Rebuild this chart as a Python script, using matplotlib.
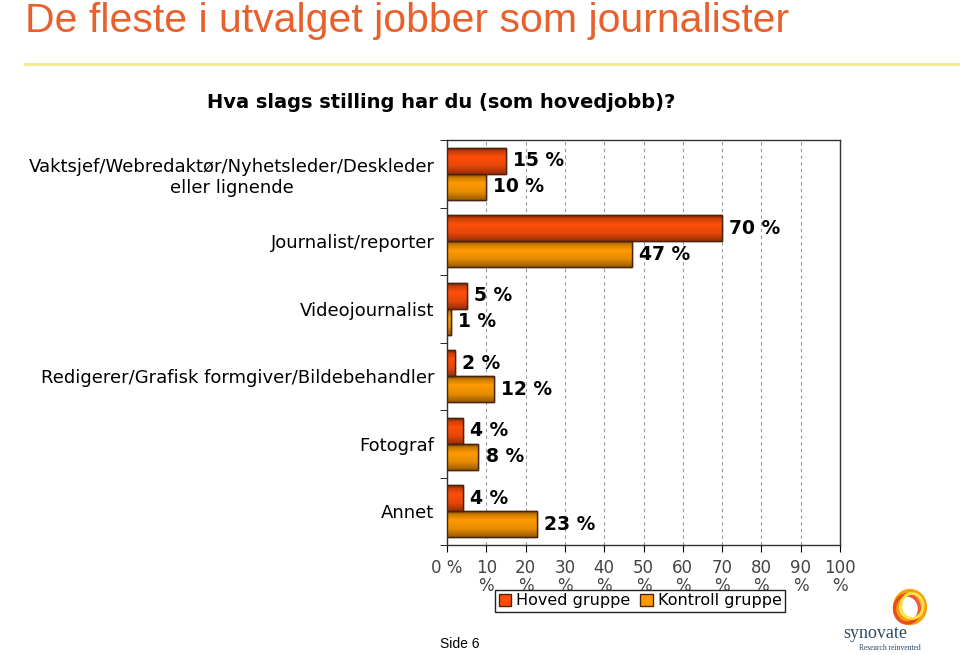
import matplotlib.pyplot as plt
from matplotlib.patches import Ellipse
from matplotlib.colors import to_rgb
import numpy as np

categories = ["Vaktsjef/Webredaktør/Nyhetsleder/Deskleder\neller lignende",
              "Journalist/reporter",
              "Videojournalist",
              "Redigerer/Grafisk formgiver/Bildebehandler",
              "Fotograf",
              "Annet"]
hoved = [15, 70, 5, 2, 4, 4]
kontroll = [10, 47, 1, 12, 8, 23]
series_names = ["Hoved gruppe", "Kontroll gruppe"]
xticks = list(range(0, 101, 10))
xticklabels = ["0 %"] + [f"{v}\n%" for v in xticks[1:]]

red = "#FF4E0A"
orange = "#FF9A00"
edge = "#4a2410"


def shade(color):
    # vertical cylinder-like shading: dark top, bright upper middle, darker bottom
    c = np.array(to_rgb(color))
    t = np.linspace(0, 1, 40)
    f = np.interp(t, [0, 0.12, 0.35, 0.7, 1.0], [0.45, 0.8, 1.0, 0.9, 0.6])
    return (c[None, :] * f[:, None])[:, None, :]


fig = plt.figure(figsize=(9.6, 6.55), dpi=100)
W, H = 960, 655

# slide title and yellow rule
fig.text(25 / W, 1 - 21 / H, "De fleste i utvalget jobber som journalister",
         fontsize=29.5, color="#E8602C", family="Liberation Sans", va="center", ha="left")
fig.add_artist(plt.Line2D([25 / W, 1.0], [1 - 64 / H] * 2, color="#F2EC8A", lw=2))

# chart title
fig.text(441 / W, 1 - 103 / H, "Hva slags stilling har du (som hovedjobb)?",
         fontsize=14, fontweight="bold", family="DejaVu Sans", ha="center", va="center")

ax = fig.add_axes([447 / W, 1 - 545 / H, (840 - 447) / W, (545 - 140) / H])
n = len(categories)
y = np.arange(n)
h = 0.385
b1 = ax.barh(y - h / 2, hoved, height=h, color=red, edgecolor=edge, linewidth=1, label=series_names[0], zorder=3)
b2 = ax.barh(y + h / 2, kontroll, height=h, color=orange, edgecolor=edge, linewidth=1, label=series_names[1], zorder=3)

for bars, col in ((b1, red), (b2, orange)):
    img = shade(col)
    for bar in bars:
        x0, y0 = bar.get_x(), bar.get_y()
        im = ax.imshow(img, extent=(x0, x0 + bar.get_width(), y0 + bar.get_height(), y0),
                       aspect="auto", zorder=3.5, interpolation="bilinear")
        im.set_clip_path(bar)
        ax.add_patch(plt.Rectangle((x0, y0), bar.get_width(), bar.get_height(),
                                   fill=False, ec=edge, lw=1, zorder=4))

for bars, vals in ((b1, hoved), (b2, kontroll)):
    for bar, v in zip(bars, vals):
        ax.text(v + 1.8, bar.get_y() + bar.get_height() / 2, f"{v} %",
                va="center", ha="left", fontsize=13.5, fontweight="bold", family="DejaVu Sans")

ax.set_xlim(0, 100)
ax.set_ylim(n - 0.5, -0.5)
ax.set_aspect("auto")
ax.set_xticks(xticks)
ax.set_xticklabels(xticklabels, fontsize=12, color="#444444", family="DejaVu Sans", linespacing=1.0)
ax.set_yticks(y)
ax.set_yticklabels(categories, fontsize=13, family="DejaVu Sans", ha="right", multialignment="center")
ax.set_yticks(np.arange(n + 1) - 0.5, minor=True)
ax.tick_params(axis="y", which="major", length=0, pad=9)
ax.tick_params(axis="y", which="minor", length=5, direction="out")
ax.tick_params(axis="x", length=5, direction="out", pad=5)
ax.xaxis.grid(True, linestyle=(0, (3, 3)), color="#999999", lw=0.8, zorder=0)
for s in ax.spines.values():
    s.set_color("#333333")
    s.set_linewidth(1)

# legend drawn on top of the second row of tick labels, as in the original
leg = fig.legend(handles=[b1, b2], labels=series_names, loc="center",
                 bbox_to_anchor=(640 / W, 1 - 601 / H), ncol=2, frameon=True, fancybox=False,
                 edgecolor="#222222", handlelength=0.8, handleheight=0.8,
                 handletextpad=0.3, columnspacing=0.6, borderpad=0.25, framealpha=1,
                 prop={"family": "DejaVu Sans", "size": 11.5})
leg.get_frame().set_linewidth(1)
leg.set_zorder(10)

# footer
fig.text(460 / W, 1 - 644 / H, "Side 6", fontsize=10, family="Liberation Sans", ha="center", va="center")

# synovate logo
lax = fig.add_axes([835 / W, 0, 125 / W, 70 / H])
lax.set_xlim(0, 125)
lax.set_ylim(0, 70)
lax.axis("off")
lax.add_patch(Ellipse((75, 48), 28, 30, fill=False, ec="#F5A20A", lw=4.5))
lax.add_patch(Ellipse((72, 46), 25, 28, fill=False, ec="#E8401C", lw=2.5, alpha=0.85))
lax.add_patch(Ellipse((77, 49), 22, 25, fill=False, ec="#FFE24A", lw=2))
lax.text(40, 22, "synovate", fontsize=13, family="Liberation Serif", color="#2C4A66", ha="center", va="center")
lax.text(55, 7, "Research reinvented", fontsize=5.5, family="Liberation Serif", color="#2C4A66", ha="center", va="center")

fig.savefig("out.png", dpi=100)
